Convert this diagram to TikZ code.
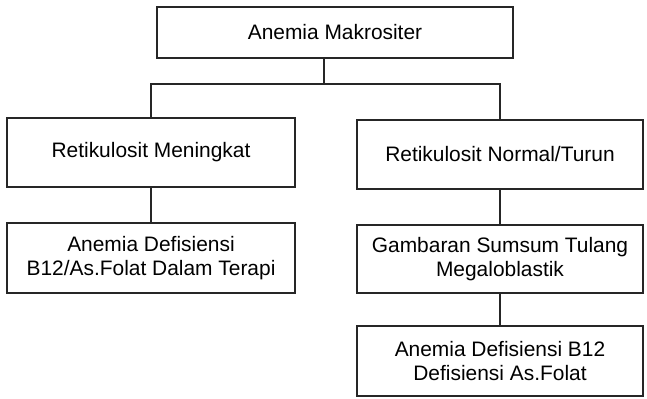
\documentclass[tikz,border=0pt]{standalone}
\usepackage{fontspec}
\setmainfont{Liberation Sans}
\begin{document}
\begin{tikzpicture}[x=1bp,y=-1bp,
  box/.style={draw=black!85,line width=1.4bp,rectangle,inner sep=0pt,align=center,
    font=\fontsize{21}{24}\selectfont},
  link/.style={draw=black!85,line width=1.4bp}]
\useasboundingbox (0,0) rectangle (647,398);
% boxes
\node[box,minimum width=356bp,minimum height=51bp] (top) at (335,32.5) {Anemia Makrositer};
\node[box,minimum width=288bp,minimum height=69bp] (up) at (151,152.5) {Retikulosit Meningkat};
\node[box,minimum width=286bp,minimum height=69bp] (nt) at (500,154.5) {Retikulosit Normal/Turun};
\node[box,minimum width=288bp,minimum height=70bp] (ther) at (151,258) {Anemia Defisiensi\\B12/As.Folat Dalam Terapi};
\node[box,minimum width=286bp,minimum height=68bp] (mega) at (500,259) {Gambaran Sumsum Tulang\\Megaloblastik};
\node[box,minimum width=286bp,minimum height=70bp] (def) at (500,361) {Anemia Defisiensi B12\\Defisiensi As.Folat};
% connectors
\coordinate (j) at (324,84);
\draw[link] (top.south -| j) -- (j);
\draw[link] (up.north) |- (j) -| (nt.north);
\draw[link] (up.south) -- (ther.north);
\draw[link] (nt.south) -- (mega.north);
\draw[link] (mega.south) -- (def.north);
\end{tikzpicture}
\end{document}
